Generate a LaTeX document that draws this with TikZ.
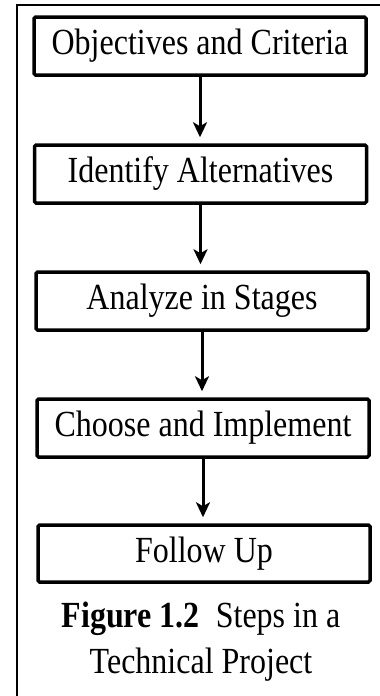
\documentclass[tikz,border=0pt]{standalone}
\usepackage{fontspec}
\setmainfont{Liberation Serif}
\usetikzlibrary{arrows.meta}
\newcommand\tallt[1]{\scalebox{1}[1.15]{#1}}
\begin{document}
\begin{tikzpicture}[x=1pt,y=-1pt,
  stepbox/.style={draw, line width=3.5pt, rounded corners=1.5pt, minimum width=332pt, minimum height=58pt, inner sep=0pt, font=\fontsize{32}{38}\selectfont},
  flow/.style={line width=3pt, -{Stealth[length=15pt,width=14pt,inset=4pt]}, shorten >=6pt},
  frameline/.style={line width=2pt},
  captext/.style={font=\fontsize{32}{38}\selectfont, anchor=base, inner sep=0pt}]
\useasboundingbox (0,0) rectangle (380,696);
\draw[frameline] (380,5) -- (17,5) -- (17,696);
\node[stepbox] (b1) at (200,46) {\tallt{Objectives and Criteria}};
\node[stepbox] (b2) at (200.5,174) {\tallt{Identify Alternatives}};
\node[stepbox] (b3) at (202,301) {\tallt{Analyze in Stages}};
\node[stepbox] (b4) at (203,428) {\tallt{Choose and Implement}};
\node[stepbox, minimum height=57pt] (b5) at (204,553.5) {\tallt{Follow Up}};
\draw[flow] (b1.south) -- (b1.south |- b2.north);
\draw[flow] (b2.south) -- (b2.south |- b3.north);
\draw[flow] (b3.south) -- (b3.south |- b4.north);
\draw[flow] (b4.south) -- (b4.south |- b5.north);
\node[captext] (c1) at (201,627) {\tallt{\textbf{Figure 1.2}\ \ Steps in a}};
\node[captext] (c2) at (201,673) {\tallt{Technical Project}};
\end{tikzpicture}
\end{document}
